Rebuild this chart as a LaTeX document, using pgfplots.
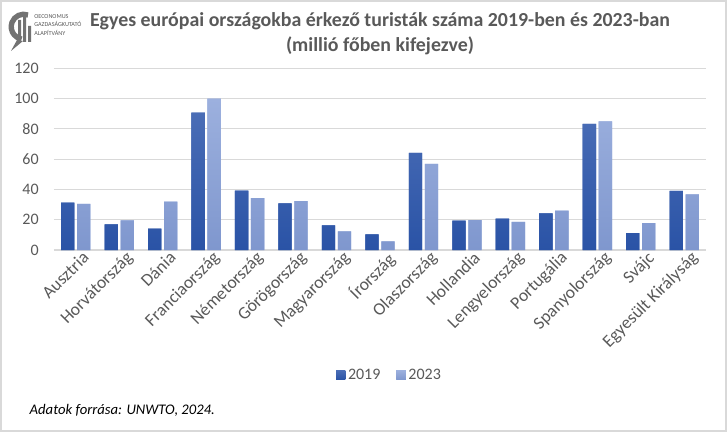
\documentclass[border=0pt]{standalone}
\usepackage{pgfplots}
\pgfplotsset{compat=1.18}
\usepackage{fontspec}
\setmainfont{Carlito}
\definecolor{txt}{HTML}{595959}
\definecolor{gridc}{HTML}{D9D9D9}
\definecolor{dA}{HTML}{4A6DB6}
\definecolor{dB}{HTML}{2A53A6}
\definecolor{lA}{HTML}{9CB0DE}
\definecolor{lB}{HTML}{7F97CE}
\begin{document}
\begin{tikzpicture}[x=0.75pt,y=0.75pt]
\useasboundingbox (0,0) rectangle (727,432);
\draw[gridc, line width=0.8pt] (1,1) rectangle (726,431);
\begin{axis}[
  at={(40.5pt,136.5pt)}, anchor=south west,
  scale only axis, width=489pt, height=136.3pt,
  ymin=0, ymax=120, ytick={0,20,...,120},
  xmin=-0.5, xmax=14.5,
  xtick={0,...,14},
  xticklabels={Ausztria,Horvátország,Dánia,Franciaország,Németország,Görögország,Magyarország,Írország,Olaszország,Hollandia,Lengyelország,Portugália,Spanyolország,Svájc,Egyesült Királyság},
  x tick label style={rotate=45, anchor=north east, font=\fontsize{13.2}{14}\selectfont, text=txt, inner sep=1pt, xshift=4pt, yshift=-2pt},
  y tick label style={font=\fontsize{12}{12}\selectfont, text=txt},
  /pgf/number format/assume math mode=true,
  axis line style={draw=none},
  major tick length=0pt,
  ymajorgrids, grid style={gridc, line width=0.8pt},
  yticklabel style={xshift=-8pt},
  ybar=2pt, bar width=10pt,
  legend style={at={(0.515,-0.688)}, anchor=center, draw=none, legend columns=2, font=\fontsize{12}{12}\selectfont, text=txt, /tikz/every even column/.append style={column sep=10pt}},
  legend image code/.code={\fill[#1] (0pt,-3.5pt) rectangle (7pt,3.5pt);},
]
\addplot[draw=none, fill=dB, top color=dA, bottom color=dB] coordinates {
(0,31.2) (1,17.0) (2,14.1) (3,90.7) (4,39.2) (5,30.8) (6,16.3) (7,10.4) (8,64.1) (9,19.4) (10,20.7) (11,24.2) (12,83.2) (13,11.2) (14,39.0)};
\addlegendentry{2019}
\addplot[draw=none, fill=lA, top color=lA, bottom color=lB] coordinates {
(0,30.4) (1,19.6) (2,31.9) (3,100.0) (4,34.3) (5,32.2) (6,12.3) (7,5.7) (8,56.8) (9,19.8) (10,18.5) (11,26.0) (12,85.0) (13,17.8) (14,36.8)};
\addlegendentry{2023}
\end{axis}
\node[font=\fontsize{14.9}{18.5}\bfseries, text=txt, align=center] at (380,398) {Egyes európai országokba érkező turisták száma 2019-ben és 2023-ban\\(millió főben kifejezve)};
\node[font=\fontsize{11}{12}\itshape, anchor=west, text=black] at (25,22) {Adatok forrása: UNWTO, 2024.};
\node[font=\fontsize{4.6}{6.6}\selectfont, text=txt, anchor=west, align=left, inner sep=0pt] at (34,407) {OECONOMUS\\GAZDASÁGKUTATÓ\\ALAPÍTVÁNY};
\draw[txt!85, line width=4pt] (28,417) arc (70:260:12.5);
\fill[txt!85] (17,392) -- (11,381) -- (23,391) -- cycle;
\fill[txt!85] (18,390) rectangle (21,412) (23,390) rectangle (26,418) (28,390) rectangle (31,406);
\end{tikzpicture}
\end{document}
